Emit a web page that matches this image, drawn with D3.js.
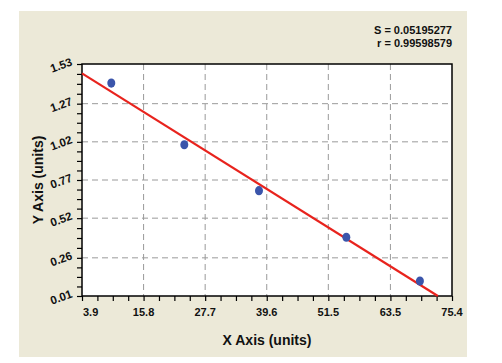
<!DOCTYPE html>
<html>
<head>
<meta charset="utf-8">
<script src="https://cdn.jsdelivr.net/npm/d3@7"></script>
<style>
  body { margin: 0; background: #fff; }
  text { font-family: "Liberation Sans", Arial, sans-serif; font-weight: bold; fill: #111; }
</style>
</head>
<body>
<script>
// data
var xValues = [9.56, 23.67, 38.1, 54.98, 69.2];
var yValues = [1.405, 1.001, 0.70, 0.395, 0.108];
var xTicks = [3.9, 15.8, 27.7, 39.6, 51.5, 63.5, 75.4];
var yTicks = [0.01, 0.26, 0.52, 0.77, 1.02, 1.27, 1.53];
var statLines = ["S = 0.05195277", "r = 0.99598579"];

var w = 502, h = 363;
// plot box edges (avoid the name "top", it is window.top)
var pLeft = 82, pRight = 452, pTop = 64, pBottom = 296;

var svg = d3.select("body").append("svg")
  .attr("width", w).attr("height", h);

// beige panel
svg.append("rect")
  .attr("x", 19).attr("y", 11)
  .attr("width", 448).attr("height", 346)
  .attr("fill", "#ece9d8");

var x = d3.scaleLinear().domain([3.9, 75.4]).range([pLeft, pRight]);
var y = d3.scaleLinear().domain([0.01, 1.53]).range([pBottom, pTop]);

svg.append("rect")
  .attr("x", pLeft).attr("y", pTop)
  .attr("width", pRight - pLeft).attr("height", pBottom - pTop)
  .attr("fill", "#fff");

// dashed grid
svg.append("g").selectAll("line")
  .data(xTicks.slice(1, -1))
  .enter().append("line")
  .attr("x1", d => x(d)).attr("x2", d => x(d))
  .attr("y1", pTop).attr("y2", pBottom)
  .attr("stroke", "#9a9a9a").attr("stroke-dasharray", "6,4");

svg.append("g").selectAll("line")
  .data(yTicks.slice(1, -1))
  .enter().append("line")
  .attr("y1", d => y(d)).attr("y2", d => y(d))
  .attr("x1", pLeft).attr("x2", pRight)
  .attr("stroke", "#9a9a9a").attr("stroke-dasharray", "6,4");

// minor ticks: 4 subdivisions per interval
function minor(ticks) {
  var out = [];
  for (var i = 0; i < ticks.length - 1; i++) {
    for (var k = 0; k < 4; k++) out.push(ticks[i] + (ticks[i + 1] - ticks[i]) * k / 4);
  }
  out.push(ticks[ticks.length - 1]);
  return out;
}

var xAxis = svg.append("g")
  .attr("transform", "translate(0," + pBottom + ")")
  .call(d3.axisBottom(x).tickValues(minor(xTicks)).tickSize(5).tickFormat(""));
var yAxis = svg.append("g")
  .attr("transform", "translate(" + pLeft + ",0)")
  .call(d3.axisLeft(y).tickValues(minor(yTicks)).tickSize(5).tickFormat(""));
[xAxis, yAxis].forEach(function(a) {
  a.select(".domain").remove();
  a.selectAll("line").attr("stroke", "#000").attr("stroke-width", 1.2);
});

// tick labels
svg.append("g").selectAll("text")
  .data(xTicks)
  .enter().append("text")
  .attr("x", (d, i) => i === 0 ? x(d) + 1 : x(d))
  .attr("y", pBottom + 20)
  .attr("text-anchor", (d, i) => i === 0 ? "start" : "middle")
  .attr("font-size", 11)
  .text(d => d.toFixed(1));

svg.append("g").selectAll("text")
  .data(yTicks)
  .enter().append("text")
  .attr("transform", d => "translate(" + (pLeft - 9) + "," + (y(d) + 1) + ") rotate(-20)")
  .attr("text-anchor", "end")
  .attr("font-size", 11.5)
  .text(d => d.toFixed(2));

// plot frame
svg.append("rect")
  .attr("x", pLeft).attr("y", pTop)
  .attr("width", pRight - pLeft).attr("height", pBottom - pTop)
  .attr("fill", "none").attr("stroke", "#000").attr("stroke-width", 1.5);

// least squares fit line
var mx = d3.mean(xValues), my = d3.mean(yValues);
var slope = d3.sum(xValues, (v, i) => (v - mx) * (yValues[i] - my)) /
            d3.sum(xValues, v => (v - mx) * (v - mx));
var icpt = my - slope * mx;
var xEnd = Math.min(75.4, (0.01 - icpt) / slope);

var line = d3.line().x(d => x(d)).y(d => y(icpt + slope * d));
svg.append("path")
  .datum([3.9, xEnd])
  .attr("d", line)
  .attr("fill", "none")
  .attr("stroke", "#e8231d")
  .attr("stroke-width", 2.2);

// points
svg.append("g").selectAll("ellipse")
  .data(xValues)
  .enter().append("ellipse")
  .attr("cx", d => x(d))
  .attr("cy", (d, i) => y(yValues[i]))
  .attr("rx", 4).attr("ry", 4.6)
  .attr("fill", "#3b55ab");

// stats
svg.append("g").selectAll("text")
  .data(statLines)
  .enter().append("text")
  .attr("x", pRight)
  .attr("y", (d, i) => 34 + i * 13)
  .attr("text-anchor", "end")
  .attr("font-size", 11)
  .text(d => d);

// axis titles
svg.append("text")
  .attr("x", (pLeft + pRight) / 2).attr("y", 345)
  .attr("text-anchor", "middle")
  .attr("font-size", 14)
  .text("X Axis (units)");

svg.append("text")
  .attr("transform", "translate(43," + ((pTop + pBottom) / 2) + ") rotate(-90)")
  .attr("text-anchor", "middle")
  .attr("font-size", 14)
  .text("Y Axis (units)");
</script>
</body>
</html>
